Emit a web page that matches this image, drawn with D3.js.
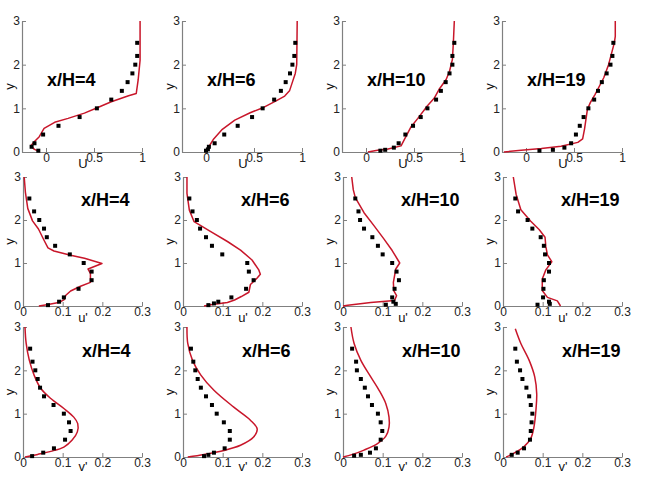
<!DOCTYPE html>
<html><head><meta charset="utf-8">
<script src="https://cdn.jsdelivr.net/npm/d3@7"></script>
<style>html,body{margin:0;padding:0;background:#fff;}svg{display:block;}</style>
</head><body>
<svg id="c" width="645" height="478"></svg>
<script>
// ---- data ----
const stations = ["x/H=4", "x/H=6", "x/H=10", "x/H=19"];
const quantityLabels = ["U", "u'", "v'"];
const uTicks = [0, 0.5, 1];
const rmsTicks = [0, 0.1, 0.2, 0.3];
const yTicks = [0, 1, 2, 3];

// Row 1: mean velocity U  (pairs: [value, y])
const expU4 = [[0.95,2.5],[0.95,2.2],[0.93,2.0],[0.9,1.8],[0.85,1.6],[0.79,1.4],[0.68,1.2],[0.53,1.0],[0.35,0.8],[0.13,0.6],[-0.03,0.4],[-0.12,0.2],[-0.15,0.12],[-0.08,0.03]];
const simU4 = [[0.98,3],[0.98,2.1],[0.96,1.65],[0.94,1.34],[0.86,1.29],[0.68,1.15],[0.54,1.02],[0.40,0.89],[0.23,0.77],[0.09,0.68],[-0.02,0.54],[-0.07,0.35],[-0.12,0.24],[-0.16,0.14],[-0.12,0.06],[-0.08,0.02]];
const expU6 = [[0.93,2.5],[0.92,2.2],[0.9,2.0],[0.875,1.8],[0.83,1.6],[0.78,1.4],[0.71,1.2],[0.59,1.0],[0.48,0.8],[0.33,0.6],[0.19,0.4],[0.09,0.2],[0.03,0.12],[0.02,0.06],[0.0,0.03]];
const simU6 = [[0.95,3],[0.945,2.0],[0.93,1.8],[0.9,1.6],[0.87,1.4],[0.82,1.28],[0.73,1.17],[0.6,1.02],[0.46,0.9],[0.3,0.73],[0.17,0.52],[0.08,0.3],[0.03,0.12],[0.0,0]];
const expU10 = [[0.92,2.5],[0.9,2.2],[0.9,2.0],[0.87,1.8],[0.83,1.6],[0.78,1.4],[0.73,1.2],[0.64,1.0],[0.57,0.8],[0.49,0.6],[0.41,0.4],[0.34,0.2],[0.29,0.1],[0.2,0.05],[0.15,0.03]];
const simU10 = [[0.92,3],[0.91,2.5],[0.9,2.12],[0.87,1.85],[0.835,1.66],[0.76,1.43],[0.71,1.23],[0.64,1.06],[0.54,0.77],[0.47,0.58],[0.365,0.14],[0.23,0.07],[0.12,0.04],[0.02,0]];
const expU19 = [[0.91,2.5],[0.9,2.2],[0.88,2.0],[0.84,1.8],[0.79,1.6],[0.75,1.4],[0.71,1.2],[0.65,1.0],[0.6,0.8],[0.56,0.6],[0.52,0.4],[0.47,0.2],[0.4,0.1],[0.28,0.05],[0.14,0.03]];
const simU19 = [[0.93,3],[0.93,2.65],[0.92,2.5],[0.86,2.0],[0.81,1.7],[0.72,1.32],[0.67,1.13],[0.64,0.98],[0.61,0.53],[0.59,0.3],[0.54,0.22],[0.365,0.13],[0.16,0.08],[-0.05,0.04],[-0.23,0.0]];

// Row 2: u'
const expUp4 = [[0.016,2.5],[0.028,2.2],[0.041,2.0],[0.053,1.8],[0.06,1.6],[0.081,1.4],[0.118,1.2],[0.153,1.0],[0.173,0.8],[0.173,0.6],[0.14,0.4],[0.103,0.2],[0.091,0.1],[0.063,0.02]];
const simUp4 = [[0.003,3],[0.006,2.65],[0.012,2.27],[0.024,1.98],[0.039,1.79],[0.053,1.53],[0.063,1.35],[0.078,1.28],[0.12,1.18],[0.155,1.11],[0.199,0.99],[0.164,0.86],[0.17,0.76],[0.17,0.55],[0.145,0.46],[0.12,0.35],[0.108,0.25],[0.104,0.15],[0.09,0.08],[0.06,0.03],[0.04,0]];
const expUp6 = [[0.016,2.5],[0.024,2.2],[0.035,2.0],[0.043,1.8],[0.058,1.6],[0.073,1.4],[0.099,1.2],[0.162,1.0],[0.166,0.8],[0.178,0.6],[0.159,0.4],[0.122,0.2],[0.089,0.1],[0.078,0.06],[0.064,0.02]];
const simUp6 = [[0.01,3],[0.01,2.62],[0.016,2.23],[0.028,1.96],[0.07,1.73],[0.112,1.5],[0.145,1.3],[0.174,1.07],[0.191,0.84],[0.195,0.74],[0.187,0.65],[0.17,0.5],[0.166,0.32],[0.147,0.22],[0.13,0.14],[0.112,0.08],[0.07,0.03],[0.053,0]];
const expUp10 = [[0.031,2.5],[0.039,2.2],[0.043,2.0],[0.053,1.8],[0.074,1.6],[0.088,1.4],[0.1,1.2],[0.124,1.0],[0.135,0.8],[0.141,0.6],[0.13,0.4],[0.124,0.2],[0.127,0.1],[0.133,0.05],[0.108,0.03]];
const simUp10 = [[0.022,3],[0.026,2.7],[0.031,2.52],[0.053,2.17],[0.078,1.87],[0.103,1.56],[0.124,1.29],[0.143,1.0],[0.133,0.86],[0.127,0.55],[0.128,0.36],[0.135,0.24],[0.13,0.13],[0.07,0.08],[0.012,0.02],[0.0,0]];
const expUp19 = [[0.031,2.5],[0.038,2.2],[0.062,2.0],[0.074,1.8],[0.095,1.6],[0.103,1.4],[0.106,1.2],[0.116,1.0],[0.116,0.8],[0.103,0.6],[0.102,0.4],[0.101,0.2],[0.116,0.1],[0.118,0.05],[0.087,0.03]];
const simUp19 = [[0.026,3],[0.033,2.6],[0.045,2.24],[0.07,1.97],[0.091,1.78],[0.106,1.6],[0.108,1.38],[0.112,1.19],[0.123,1.03],[0.108,0.84],[0.099,0.63],[0.099,0.36],[0.112,0.2],[0.137,0.12],[0.145,0]];

// Row 3: v'
const expVp4 = [[0.018,2.5],[0.024,2.2],[0.031,2.0],[0.037,1.8],[0.043,1.6],[0.053,1.4],[0.077,1.2],[0.103,1.0],[0.116,0.8],[0.12,0.6],[0.106,0.4],[0.078,0.2],[0.051,0.1],[0.023,0.02]];
const simVp4 = [[0.005,3],[0.008,2.62],[0.016,2.23],[0.028,1.89],[0.045,1.58],[0.07,1.35],[0.103,1.12],[0.128,0.92],[0.138,0.77],[0.137,0.58],[0.124,0.39],[0.103,0.23],[0.07,0.13],[0.037,0.06],[0.005,0]];
const expVp6 = [[0.02,2.5],[0.026,2.2],[0.031,2.0],[0.037,1.8],[0.045,1.6],[0.058,1.4],[0.073,1.2],[0.085,1.0],[0.103,0.8],[0.118,0.6],[0.118,0.4],[0.105,0.2],[0.078,0.1],[0.064,0.05],[0.053,0.02]];
const simVp6 = [[0.01,3],[0.012,2.62],[0.024,2.23],[0.045,1.89],[0.078,1.54],[0.128,1.15],[0.17,0.85],[0.187,0.65],[0.178,0.46],[0.145,0.27],[0.103,0.15],[0.053,0.06],[0.012,0]];
const expVp10 = [[0.023,2.5],[0.033,2.2],[0.035,2.0],[0.045,1.8],[0.055,1.6],[0.063,1.4],[0.073,1.2],[0.088,1.0],[0.095,0.8],[0.099,0.6],[0.095,0.4],[0.083,0.2],[0.068,0.1],[0.045,0.05],[0.028,0.03]];
const simVp10 = [[0.02,3],[0.028,2.62],[0.045,2.23],[0.07,1.85],[0.091,1.54],[0.108,1.23],[0.116,0.92],[0.116,0.69],[0.108,0.48],[0.087,0.31],[0.053,0.16],[0.024,0.06],[0.0,0]];
const expVp19 = [[0.031,2.5],[0.035,2.2],[0.043,2.0],[0.049,1.8],[0.059,1.6],[0.066,1.4],[0.07,1.2],[0.074,1.0],[0.072,0.8],[0.07,0.6],[0.068,0.4],[0.053,0.2],[0.037,0.1],[0.022,0.05]];
const simVp19 = [[0.031,2.96],[0.045,2.62],[0.066,2.23],[0.08,1.85],[0.085,1.46],[0.083,1.08],[0.078,0.69],[0.07,0.43],[0.053,0.24],[0.028,0.09],[0.008,0]];

// ---- layout ----
const colX = [0, 160, 320, 480];
const rows = [
  {exp:[expU4,expU6,expU10,expU19], sim:[simU4,simU6,simU10,simU19], dom:[-0.25,1], ticks:uTicks,
   left:22, right:142, top:21, bot:152, labBase:168, titleX:47, titleBase:86, curve:d3.curveLinear},
  {exp:[expUp4,expUp6,expUp10,expUp19], sim:[simUp4,simUp6,simUp10,simUp19], dom:[0,0.3], ticks:rmsTicks,
   left:23, right:142, top:177, bot:306, labBase:322, titleX:81, titleBase:206, curve:d3.curveLinear},
  {exp:[expVp4,expVp6,expVp10,expVp19], sim:[simVp4,simVp6,simVp10,simVp19], dom:[0,0.3], ticks:rmsTicks,
   left:23, right:142, top:327, bot:457, labBase:471, titleX:82, titleBase:357, curve:d3.curveCatmullRom.alpha(0.5)}
];

const svg = d3.select("#c");
const FONT = "'Liberation Sans', Arial, Helvetica, sans-serif";
const axisCol = "#808080";
const red = "#c8162a";

rows.forEach((r, ri) => {
  stations.forEach((st, ci) => {
    const g = svg.append("g").attr("transform", `translate(${colX[ci]},0)`);
    const x = d3.scaleLinear().domain(r.dom).range([r.left, r.right]);
    const y = d3.scaleLinear().domain([0, 3]).range([r.bot, r.top]);

    const fmt = v => (v === 0 ? "0" : d3.format("")(v));
    const xa = g.append("g").attr("transform", `translate(0,${r.bot})`)
      .call(d3.axisBottom(x).tickValues(r.ticks).tickFormat(fmt).tickSizeInner(-4).tickSizeOuter(0).tickPadding(1));
    const ya = g.append("g").attr("transform", `translate(${r.left},0)`)
      .call(d3.axisLeft(y).tickValues(yTicks).tickFormat(fmt).tickSizeInner(-4).tickSizeOuter(0).tickPadding(2));
    [xa, ya].forEach(a => {
      a.select(".domain").attr("stroke", axisCol).attr("stroke-width", 1.2);
      a.selectAll(".tick line").attr("stroke", axisCol);
      a.selectAll(".tick text").attr("fill", "#222").style("font-family", FONT).style("font-size", "12px");
    });

    // simulation line
    g.append("path").datum(r.sim[ci])
      .attr("fill", "none").attr("stroke", red).attr("stroke-width", 1.5).attr("stroke-linejoin", "round")
      .attr("d", d3.line().x(d => x(d[0])).y(d => y(d[1])).curve(r.curve));

    // experimental squares
    g.selectAll("rect.e").data(r.exp[ci]).enter().append("rect").attr("class", "e")
      .attr("x", d => x(d[0]) - 2).attr("y", d => y(d[1]) - 2)
      .attr("width", 4).attr("height", 4).attr("fill", "#000");

    // axis labels
    g.append("text").attr("x", 83).attr("y", r.labBase).attr("text-anchor", "middle")
      .style("font-family", FONT).style("font-size", "13px").attr("fill", "#111")
      .text(quantityLabels[ri]);
    g.append("text").attr("transform", `translate(14,${(r.top + r.bot) / 2}) rotate(-90)`)
      .attr("text-anchor", "middle")
      .style("font-family", FONT).style("font-size", "13px").attr("fill", "#111").text("y");

    // station title
    g.append("text").attr("x", r.titleX).attr("y", r.titleBase)
      .style("font-family", FONT).style("font-size", "18px").style("font-weight", "bold").attr("fill", "#000")
      .text(st);
  });
});
</script>
</body></html>
